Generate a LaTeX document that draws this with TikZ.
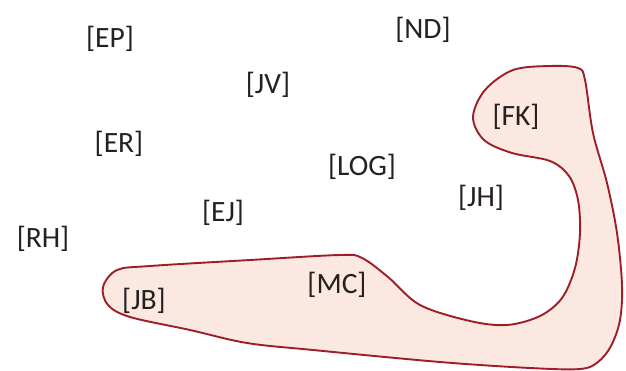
\documentclass[tikz,border=0pt]{standalone}
\usepackage{fontspec}
\setmainfont{Carlito}
\definecolor{blobfill}{RGB}{251,233,225}
\definecolor{blobline}{RGB}{158,30,40}
\definecolor{txt}{RGB}{38,32,32}
\begin{document}
\begin{tikzpicture}[x=1pt,y=-1pt,
  lbl/.style={anchor=base,inner sep=0pt,font=\fontsize{29.5}{31}\selectfont,text=txt}]
\useasboundingbox (0,0) rectangle (626,370);
\fill[white] (0,0) rectangle (626,370);
\draw[blobline,fill=blobfill,line width=1.9pt,line join=round]
  plot[smooth cycle,tension=0.55] coordinates {
  (103,287) (117,270) (150,266) (250,260) (340,255) (362,258) (388,277)
  (420,305) (470,321) (507,325) (540,316) (562,298) (575,268) (580,233)
  (578,200) (569,176) (550,161) (512,153) (484,140) (473,117) (485,90)
  (513,70) (550,66) (578,68) (585,80) (593,133) (607,183) (617,233)
  (622,285) (620,320) (611,346) (598,362) (580,369) (530,368) (440,362)
  (313,350) (247,343) (190,330) (130,317) (108,305)};
\node[lbl] (EP) at (110,47) {[EP]};
\node[lbl] (ND) at (423,38.5) {[ND]};
\node[lbl] (JV) at (268,93.5) {[JV]};
\node[lbl] (FK) at (516,125.5) {[FK]};
\node[lbl] (ER) at (119,152.5) {[ER]};
\node[lbl] (LOG) at (362,175.5) {[LOG]};
\node[lbl] (JH) at (481,206.5) {[JH]};
\node[lbl] (EJ) at (223,221.5) {[EJ]};
\node[lbl] (RH) at (43,247.5) {[RH]};
\node[lbl] (MC) at (337,293.5) {[MC]};
\node[lbl] (JB) at (144,309.5) {[JB]};
\end{tikzpicture}
\end{document}
